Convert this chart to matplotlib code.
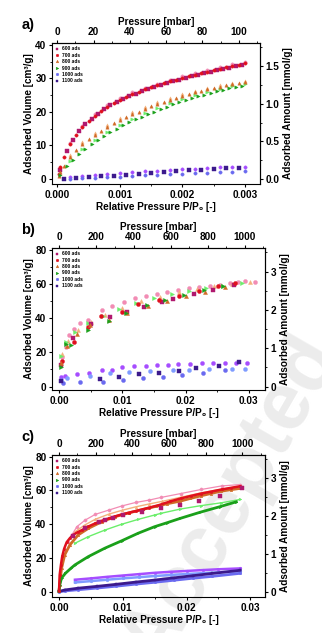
import matplotlib
matplotlib.use("Agg")
import matplotlib.pyplot as plt
from matplotlib.lines import Line2D
from matplotlib.ticker import MultipleLocator, FormatStrFormatter

plt.rcParams["font.family"] = ["Liberation Sans", "DejaVu Sans"]
plt.rcParams["font.weight"] = "bold"
plt.rcParams["axes.labelweight"] = "bold"
plt.rcParams["font.size"] = 7.2

# ---------------- panel a (P/P0 up to 0.003) ----------------
A_X = [0.00002, 0.00005, 0.0001, 0.0002, 0.0003, 0.0004, 0.0005, 0.0006, 0.0007, 0.0008,
       0.0009, 0.0010, 0.0011, 0.0012, 0.0013, 0.0014, 0.0015, 0.0016, 0.0017, 0.0018,
       0.0019, 0.0020, 0.0021, 0.0022, 0.0023, 0.0024, 0.0025, 0.0026, 0.0027, 0.0028,
       0.0029, 0.0030]
A_XS = [0.00004, 0.00015, 0.00025, 0.00035, 0.00045, 0.00055, 0.00065, 0.00075, 0.00085,
        0.00095, 0.00105, 0.00115, 0.00125, 0.00135, 0.00145, 0.00155, 0.00165, 0.00175,
        0.00185, 0.00195, 0.00205, 0.00215, 0.00225, 0.00235, 0.00245, 0.00255, 0.00265,
        0.00275, 0.00285, 0.00295]
A_XD = [0.0002, 0.0004, 0.0006, 0.0008, 0.0010, 0.0012, 0.0014, 0.0016, 0.0018, 0.0020,
        0.0022, 0.0024, 0.0026, 0.0028, 0.0030]
A_XL = [0.0001, 0.0003, 0.0005, 0.0007, 0.0009, 0.0011, 0.0013, 0.0015, 0.0017, 0.0019,
        0.0021, 0.0023, 0.0025, 0.0027, 0.0029]

A_700_ADS = [1.5, 3.5, 6.5, 10.3, 13.2, 15.4, 17.3, 18.9, 20.3, 21.5, 22.6, 23.6, 24.5, 25.3,
             26.0, 26.7, 27.3, 27.9, 28.5, 29.1, 29.6, 30.1, 30.6, 31.1, 31.6, 32.0, 32.5,
             32.9, 33.3, 33.7, 34.1, 34.5]
A_600_ADS = [2.8, 8.4, 11.6, 14.2, 16.3, 18.0, 19.5, 20.8, 21.9, 22.9, 23.8, 24.7, 25.4, 26.1,
             26.8, 27.4, 28.0, 28.6, 29.1, 29.6, 30.1, 30.6, 31.1, 31.6, 32.0, 32.4, 32.8,
             33.2, 33.6, 34.0]
A_800_ADS = [1.0, 2.2, 3.8, 6.5, 8.6, 10.3, 11.8, 13.1, 14.4, 15.5, 16.6, 17.6, 18.5, 19.3,
             20.1, 20.9, 21.6, 22.3, 23.0, 23.6, 24.2, 24.8, 25.3, 25.8, 26.3, 26.7, 27.1,
             27.5, 27.9, 28.2, 28.5, 28.8]
A_900_ADS = [1.2, 3.8, 5.8, 7.5, 9.0, 10.4, 11.7, 12.9, 14.0, 15.0, 16.0, 16.9, 17.8, 18.6,
             19.4, 20.1, 20.8, 21.5, 22.2, 22.8, 23.4, 24.0, 24.6, 25.1, 25.6, 26.1, 26.6,
             27.0, 27.4, 27.8]
A_PINK_DES = [10.8, 15.9, 19.4, 22.0, 24.1, 25.8, 27.2, 28.4, 29.6, 30.6, 31.6, 32.5, 33.4,
              34.2, 35.0]
A_800_DES = [7.0, 10.9, 13.7, 16.1, 18.2, 19.9, 21.5, 22.9, 24.2, 25.3, 26.3, 27.2, 27.9,
             28.6, 29.1]
A_900_DES = [5.4, 8.8, 11.6, 14.0, 16.1, 18.0, 19.7, 21.2, 22.6, 23.8, 25.0, 26.0, 26.9,
             27.7, 28.3]
A_1100_DES = [0.6, 0.9, 1.2, 1.5, 1.8, 2.0, 2.3, 2.5, 2.7, 2.9, 3.1, 3.3, 3.5, 3.6, 3.7]
A_1100_ADS = [0.1, 0.3, 0.5, 0.8, 1.0, 1.3, 1.6, 1.9, 2.1, 2.4, 2.6, 2.8, 3.0, 3.2, 3.4]
A_1000_ADS = [0.1, 0.2, 0.4, 0.6, 0.7, 0.9, 1.1, 1.3, 1.5, 1.6, 1.8, 1.9, 2.1, 2.2, 2.3]

# ---------------- panel b (sparse points) ----------------
B_600_X = [0.0003, 0.0022, 0.0051, 0.0080, 0.0107, 0.0135, 0.0162, 0.0180, 0.0213, 0.0244, 0.0277]
B_600_Y = [12.5, 28.3, 36.4, 40.9, 43.8, 46.5, 49.5, 51.2, 54.1, 56.4, 59.4]
B_700_X = [0.0004, 0.0024, 0.0045, 0.0066, 0.0100, 0.0125, 0.0158, 0.0190, 0.0222, 0.0252, 0.0278]
B_700_Y = [15.0, 26.0, 35.0, 41.5, 43.5, 48.5, 50.5, 53.0, 56.0, 58.5, 60.5]
B_800_X = [0.0003, 0.0012, 0.0028, 0.0048, 0.0078, 0.0107, 0.0140, 0.0171, 0.0200, 0.0231, 0.0263]
B_800_Y = [14.0, 24.0, 31.0, 36.0, 39.0, 43.0, 47.0, 50.0, 53.0, 55.5, 58.0]
B_900_X = [0.0002, 0.0010, 0.0019, 0.0046, 0.0078, 0.0106, 0.0139, 0.0168, 0.0198, 0.0229, 0.0260]
B_900_Y = [11.5, 25.0, 24.4, 33.2, 38.5, 43.0, 47.7, 50.6, 53.5, 56.4, 58.9]
B_900D_X = [0.0003, 0.0011, 0.0025, 0.0046, 0.0070, 0.0095, 0.0122, 0.0150, 0.0178, 0.0205,
            0.0233, 0.0260, 0.0290]
B_900D_Y = [18.0, 26.0, 32.0, 37.0, 41.0, 45.5, 49.0, 52.0, 54.0, 56.0, 57.5, 59.0, 60.5]
B_800D_X = [0.0004, 0.0013, 0.0030, 0.0050, 0.0072, 0.0100, 0.0130, 0.0160, 0.0190, 0.0218,
            0.0245, 0.0273, 0.0302]
B_800D_Y = [19.0, 26.5, 33.0, 37.5, 42.0, 46.0, 50.0, 52.5, 55.0, 57.0, 58.5, 60.0, 61.0]
B_PINK_X = [0.0005, 0.0010, 0.0016, 0.0024, 0.0033, 0.0046, 0.0067, 0.0083, 0.0102, 0.0120,
            0.0137, 0.0155, 0.0170, 0.0188, 0.0205, 0.0222, 0.0239, 0.0255, 0.0270, 0.0283,
            0.0295, 0.0310]
B_PINK_Y = [17.0, 23.0, 29.9, 33.7, 37.0, 39.0, 44.5, 47.0, 49.6, 51.5, 53.0, 54.0, 55.4,
            56.5, 57.5, 58.3, 59.0, 59.5, 60.5, 61.0, 61.8, 61.3]
B_1100D_X = [0.0003, 0.0009, 0.0028, 0.0047, 0.0067, 0.0083, 0.0099, 0.0118, 0.0137, 0.0155,
             0.0172, 0.0188, 0.0207, 0.0226, 0.0243, 0.0262, 0.0280, 0.0298]
B_1100D_Y = [5.5, 6.2, 7.5, 8.2, 9.5, 9.8, 11.3, 11.9, 11.9, 12.4, 12.8, 13.0, 13.4, 13.6,
             13.8, 14.0, 13.8, 13.8]
B_1000_X = [0.0006, 0.0033, 0.0069, 0.0101, 0.0132, 0.0164, 0.0195, 0.0227, 0.0263]
B_1000_Y = [2.3, 2.9, 2.9, 3.9, 4.8, 5.8, 6.8, 8.1, 9.7]
B_1000D_X = [0.0002, 0.0012, 0.0048, 0.0080, 0.0111, 0.0143, 0.0180, 0.0206, 0.0237, 0.0274, 0.0295]
B_1000D_Y = [4.0, 4.8, 6.2, 7.8, 8.7, 9.3, 9.7, 9.9, 10.0, 10.3, 10.3]
B_1100_X = [0.0003, 0.0064, 0.0095, 0.0126, 0.0158, 0.0190, 0.0216, 0.0253, 0.0284]
B_1100_Y = [3.0, 4.3, 5.8, 7.4, 8.1, 9.3, 10.7, 12.2, 14.1]

# ---------------- panel c (dense measurements) ----------------
C_700_X = [0.0, 0.0001, 0.0003, 0.0005, 0.0008, 0.0012, 0.0017, 0.0022, 0.0029, 0.0036,
           0.0046, 0.0057, 0.0067, 0.0078, 0.0088, 0.0099, 0.0110, 0.0120, 0.0131, 0.0141,
           0.0157, 0.0174, 0.0191, 0.0207, 0.0223, 0.0239, 0.0255, 0.0270, 0.0284]
C_700_Y = [0.5, 10.0, 16.0, 21.0, 25.5, 29.4, 31.8, 33.7, 35.3, 36.6, 38.7, 40.6, 42.1, 43.5,
           44.7, 45.9, 46.9, 47.8, 48.8, 49.8, 51.4, 53.5, 55.3, 56.8, 58.2, 59.4, 60.6,
           61.6, 62.5]
C_800_X = [0.0, 0.0001, 0.0004, 0.0009, 0.0017, 0.0030, 0.0046, 0.0067, 0.0088, 0.0110,
           0.0131, 0.0152, 0.0170, 0.0190, 0.0206, 0.0222, 0.0238, 0.0254, 0.0270, 0.0283]
C_800_Y = [0.3, 4.3, 14.0, 22.0, 27.8, 33.7, 37.6, 41.5, 44.5, 46.8, 48.8, 50.6, 52.2, 53.7,
           55.3, 56.8, 58.2, 59.6, 60.5, 61.2]
C_900_X = [0.0, 0.0001, 0.0004, 0.0010, 0.0019, 0.0025, 0.0046, 0.0072, 0.0098, 0.0124,
           0.0150, 0.0170, 0.0190, 0.0221, 0.0252, 0.0278]
C_900_Y = [0.3, 4.0, 8.2, 11.0, 14.1, 16.0, 20.9, 25.9, 30.2, 34.7, 38.6, 41.0, 43.5, 47.1,
           50.4, 53.3]
C_900D_X = [0.0025, 0.0046, 0.0072, 0.0098, 0.0124, 0.0150, 0.0160, 0.0190, 0.0222, 0.0254, 0.0284]
C_900D_Y = [28.8, 32.7, 36.6, 40.0, 42.9, 45.5, 46.5, 49.0, 51.0, 52.7, 54.7]
C_PINK_X = [0.0014, 0.0028, 0.0041, 0.0057, 0.0078, 0.0099, 0.0120, 0.0141, 0.0160, 0.0191,
            0.0223, 0.0255, 0.0284]
C_PINK_Y = [29.8, 38.6, 42.5, 45.9, 48.4, 50.9, 52.9, 54.3, 55.9, 58.2, 60.6, 62.7, 63.5]
C_800D_X = [0.0025, 0.0040, 0.0057, 0.0078, 0.0099, 0.0120, 0.0141, 0.0162, 0.0191, 0.0223,
            0.0255, 0.0284]
C_800D_Y = [35.5, 39.5, 43.0, 46.0, 48.3, 50.3, 52.0, 53.6, 56.0, 58.6, 60.8, 62.5]
C_600_X = [0.0022, 0.0040, 0.0062, 0.0072, 0.0085, 0.0101, 0.0130, 0.0160, 0.0190, 0.0220,
           0.0252, 0.0287]
C_600_Y = [33.0, 38.0, 41.5, 42.5, 43.5, 45.5, 47.5, 49.5, 51.5, 53.5, 56.5, 61.2]
C_LOWD_X = [0.0025, 0.0050, 0.0075, 0.0100, 0.0125, 0.0150, 0.0175, 0.0200, 0.0225, 0.0250, 0.0284]
C_1100D_Y = [7.2, 8.0, 8.9, 9.7, 10.5, 11.3, 11.9, 12.4, 12.9, 13.4, 13.9]
C_1000D_Y = [5.6, 6.4, 7.2, 8.0, 8.7, 9.4, 10.0, 10.6, 11.1, 11.6, 12.2]
C_LOW_X = [0.0, 0.0010, 0.0030, 0.0060, 0.0090, 0.0120, 0.0150, 0.0180, 0.0210, 0.0240, 0.0284]
C_1100_Y = [0.3, 1.2, 2.2, 3.3, 4.5, 5.8, 7.0, 8.3, 9.6, 10.9, 12.8]
C_1000_Y = [0.1, 0.6, 1.3, 2.3, 3.4, 4.6, 5.7, 6.9, 8.1, 9.2, 11.0]

LEGEND_LABELS = ["600 ads", "700 ads", "800 ads", "900 ads", "1000 ads", "1100 ads"]

STY = {
    "600": dict(color="#b0186e", marker="s"),
    "700": dict(color="#e0101e", marker="o"),
    "800": dict(color="#d06a26", marker="^"),
    "900": dict(color="#1aa01a", marker=">"),
    "1000": dict(color="#6a6af0", marker="o"),
    "1100": dict(color="#3c1a8c", marker="s"),
    "pink": dict(color="#f28cb4", marker="o"),
    "800d": dict(color="#f3b07c", marker="^"),
    "900d": dict(color="#6aee6a", marker=">"),
    "1000d": dict(color="#7f9cff", marker="o"),
    "1100d": dict(color="#a64dff", marker="o"),
}

VOL_PER_MMOL = 22.4


def pts(ax, x, y, key, ms=2.4, line=False, lw=1.8):
    st = STY[key]
    ax.plot(x, y, linestyle="-" if line else "none", lw=lw, color=st["color"],
            marker=st["marker"], ms=ms, mec=st["color"], mfc=st["color"], mew=0.3)


def setup(ax, xlim, ylim, xmaj, xmin, ymaj, ymin, xfmt, p0, pmaj, pmin, rmaj, rmin, rfmt, letter):
    ax.patch.set_visible(False)
    ax.set_xlim(*xlim)
    ax.set_ylim(*ylim)
    ax.xaxis.set_major_locator(MultipleLocator(xmaj))
    ax.xaxis.set_minor_locator(MultipleLocator(xmin))
    ax.xaxis.set_major_formatter(FormatStrFormatter(xfmt))
    ax.yaxis.set_major_locator(MultipleLocator(ymaj))
    ax.yaxis.set_minor_locator(MultipleLocator(ymin))
    ax.tick_params(which="major", direction="out", length=2.5, width=0.8, pad=1.5)
    ax.tick_params(which="minor", direction="out", length=1.4, width=0.6)
    for s in ax.spines.values():
        s.set_linewidth(0.8)
    ax.set_xlabel("Relative Pressure P/P\u2080 [-]", labelpad=1.5)
    ax.set_ylabel("Adsorbed Volume [cm\u00b3/g]", labelpad=1.0)

    top = ax.secondary_xaxis("top", functions=(lambda v: v * p0, lambda v: v / p0))
    top.xaxis.set_major_locator(MultipleLocator(pmaj))
    top.xaxis.set_minor_locator(MultipleLocator(pmin))
    top.tick_params(which="major", direction="out", length=2.5, width=0.8, pad=1.5)
    top.tick_params(which="minor", direction="out", length=1.4, width=0.6)
    top.set_xlabel("Pressure [mbar]", labelpad=2.0)

    right = ax.secondary_yaxis("right", functions=(lambda v: v / VOL_PER_MMOL,
                                                    lambda v: v * VOL_PER_MMOL))
    right.yaxis.set_major_locator(MultipleLocator(rmaj))
    right.yaxis.set_minor_locator(MultipleLocator(rmin))
    right.yaxis.set_major_formatter(FormatStrFormatter(rfmt))
    right.tick_params(which="major", direction="out", length=2.5, width=0.8, pad=1.5)
    right.tick_params(which="minor", direction="out", length=1.4, width=0.6)
    right.set_ylabel("Adsorbed Amount [mmol/g]", labelpad=2.5)

    handles = [Line2D([], [], ls="none", ms=1.9, mew=0.3, **STY[k])
               for k in ["600", "700", "800", "900", "1000", "1100"]]
    ax.legend(handles, LEGEND_LABELS, loc="upper left", frameon=False,
              prop=dict(size=3.5, weight="bold"), handlelength=0.8, handletextpad=0.6,
              labelspacing=0.28, borderaxespad=0.4, borderpad=0.3)
    ax.text(-0.145, 1.13, letter, transform=ax.transAxes, fontsize=10.5, fontweight="bold",
            ha="left", va="center")


fig = plt.figure(figsize=(3.22, 6.33), dpi=100)
ax_a = fig.add_axes([0.1615, 0.7093, 0.646, 0.2227])
ax_b = fig.add_axes([0.1615, 0.3839, 0.6615, 0.2243])
ax_c = fig.add_axes([0.1615, 0.0569, 0.6615, 0.2243])

# panel a
pts(ax_a, A_XD, A_PINK_DES, "pink")
pts(ax_a, A_XD, A_800_DES, "800d")
pts(ax_a, A_XD, A_900_DES, "900d")
pts(ax_a, A_XD, A_1100_DES, "1100d")
pts(ax_a, A_XS, A_600_ADS, "600")
pts(ax_a, A_X, A_700_ADS, "700")
pts(ax_a, A_X, A_800_ADS, "800")
pts(ax_a, A_XS, A_900_ADS, "900")
pts(ax_a, A_XD, A_1000_ADS, "1000")
pts(ax_a, A_XL, A_1100_ADS, "1100")
setup(ax_a, (-0.000085, 0.00324), (-1.5, 40.5), 0.001, 0.0005, 10, 5, "%.3f",
      34500, 20, 10, 0.5, 0.25, "%.1f", "a)")

# panel b
pts(ax_b, B_PINK_X, B_PINK_Y, "pink", ms=2.9)
pts(ax_b, B_800D_X, B_800D_Y, "800d", ms=2.9)
pts(ax_b, B_900D_X, B_900D_Y, "900d", ms=2.9)
pts(ax_b, B_1100D_X, B_1100D_Y, "1100d", ms=2.9)
pts(ax_b, B_1000D_X, B_1000D_Y, "1000d", ms=2.9)
pts(ax_b, B_600_X, B_600_Y, "600", ms=2.9)
pts(ax_b, B_700_X, B_700_Y, "700", ms=2.9)
pts(ax_b, B_800_X, B_800_Y, "800", ms=2.9)
pts(ax_b, B_900_X, B_900_Y, "900", ms=2.9)
pts(ax_b, B_1000_X, B_1000_Y, "1000", ms=2.9)
pts(ax_b, B_1100_X, B_1100_Y, "1100", ms=2.9)
setup(ax_b, (-0.00116, 0.0326), (-2, 81), 0.01, 0.005, 20, 10, "%.2f",
      34000, 200, 100, 1, 0.5, "%d", "b)")

# panel c
pts(ax_c, C_PINK_X, C_PINK_Y, "pink", ms=2.3, line=True, lw=0.9)
pts(ax_c, C_800D_X, C_800D_Y, "800d", ms=2.0, line=True, lw=1.0)
pts(ax_c, C_900D_X, C_900D_Y, "900d", ms=2.0, line=True, lw=1.0)
pts(ax_c, C_LOWD_X, C_1100D_Y, "1100d", ms=2.0, line=True, lw=1.8)
pts(ax_c, C_LOWD_X, C_1000D_Y, "1000d", ms=2.0, line=True, lw=1.8)
pts(ax_c, C_LOW_X, C_1000_Y, "1000", ms=1.8, line=True, lw=2.0)
pts(ax_c, C_LOW_X, C_1100_Y, "1100", ms=1.8, line=True, lw=2.0)
pts(ax_c, C_800_X, C_800_Y, "800", ms=1.8, line=True, lw=2.0)
pts(ax_c, C_900_X, C_900_Y, "900", ms=1.8, line=True, lw=2.0)
pts(ax_c, C_700_X, C_700_Y, "700", ms=1.8, line=True, lw=1.8)
pts(ax_c, C_600_X, C_600_Y, "600", ms=2.5)
setup(ax_c, (-0.0011, 0.0323), (-3, 81), 0.01, 0.005, 20, 10, "%.2f",
      34800, 200, 100, 1, 0.5, "%d", "c)")

# light watermark behind everything
fig.text(0.72, 0.21, "Accepted", rotation=60, fontsize=58, fontweight="bold",
         color="#ececec", ha="center", va="center", zorder=-1)

fig.savefig("out.png", dpi=100)
